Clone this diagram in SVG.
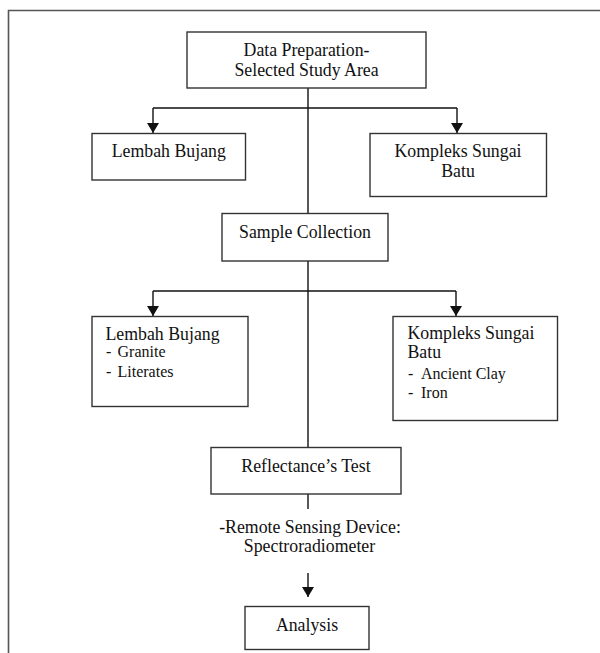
<svg xmlns="http://www.w3.org/2000/svg" width="600" height="653" viewBox="0 0 600 653">
<defs>
<style>
.box{fill:#fff;stroke:#333;stroke-width:1.4}
.ln{fill:none;stroke:#111;stroke-width:1.4}
.frame{fill:none;stroke:#555;stroke-width:1.6}
text{font-family:"Liberation Serif","Times New Roman",serif;font-size:17.8px;fill:#111}
.c{text-anchor:middle}
.s{font-size:16px}
</style>
<marker id="ah" viewBox="0 0 10 12" refX="10" refY="6" markerWidth="10" markerHeight="12" markerUnits="userSpaceOnUse" orient="auto">
<path d="M0,0 L10,6 L0,12 Z" fill="#111"/>
</marker>
</defs>
<rect width="600" height="653" fill="#fff"/>
<path class="frame" d="M8.5,660 V10.5 H610"/>
<g id="connectors">
<path class="ln" d="M308,88 V213"/>
<path class="ln" d="M153,108 H457"/>
<path class="ln" d="M153,108 V133" marker-end="url(#ah)"/>
<path class="ln" d="M457,108 V133" marker-end="url(#ah)"/>
<path class="ln" d="M308,261 V448"/>
<path class="ln" d="M153,291 H456"/>
<path class="ln" d="M153,291 V316" marker-end="url(#ah)"/>
<path class="ln" d="M456,291 V316" marker-end="url(#ah)"/>
<path class="ln" d="M308,494 V509"/>
<path class="ln" d="M308,573 V597" marker-end="url(#ah)"/>
</g>
<g id="top">
<rect class="box" x="187" y="32" width="239" height="56"/>
<text class="c" x="306.5" y="56">Data Preparation-</text>
<text class="c" x="306.5" y="76">Selected Study Area</text>
</g>
<g id="lembah1">
<rect class="box" x="92" y="133.5" width="153.5" height="46.5"/>
<text class="c" x="168.8" y="157">Lembah Bujang</text>
</g>
<g id="kompleks1">
<rect class="box" x="370" y="133.5" width="176.5" height="63"/>
<text class="c" x="458" y="156.5">Kompleks Sungai</text>
<text class="c" x="458" y="176.5">Batu</text>
</g>
<g id="sample">
<rect class="box" x="222" y="213.5" width="166" height="47.5"/>
<text class="c" x="305" y="238">Sample Collection</text>
</g>
<g id="lembah2">
<rect class="box" x="92" y="316.5" width="156" height="90"/>
<text x="105.5" y="340">Lembah Bujang</text>
<text class="s" x="106" y="357">-</text>
<text class="s" x="117.5" y="357">Granite</text>
<text class="s" x="106" y="377">-</text>
<text class="s" x="117.5" y="377">Literates</text>
</g>
<g id="kompleks2">
<rect class="box" x="393" y="316.5" width="164.5" height="104"/>
<text x="407.5" y="338.5">Kompleks Sungai</text>
<text x="407.5" y="358">Batu</text>
<text class="s" x="408" y="378.5">-</text>
<text class="s" x="421" y="378.5">Ancient Clay</text>
<text class="s" x="408" y="397.5">-</text>
<text class="s" x="421" y="397.5">Iron</text>
</g>
<g id="reflectance">
<rect class="box" x="211" y="447.5" width="190" height="46.5"/>
<text class="c" x="306" y="471.5">Reflectance’s Test</text>
</g>
<g id="device">
<text class="c" x="310" y="533">-Remote Sensing Device:</text>
<text class="c" x="309.5" y="551.5">Spectroradiometer</text>
</g>
<g id="analysis">
<rect class="box" x="245" y="606.5" width="124" height="43"/>
<text class="c" x="307" y="630.5">Analysis</text>
</g>
</svg>
